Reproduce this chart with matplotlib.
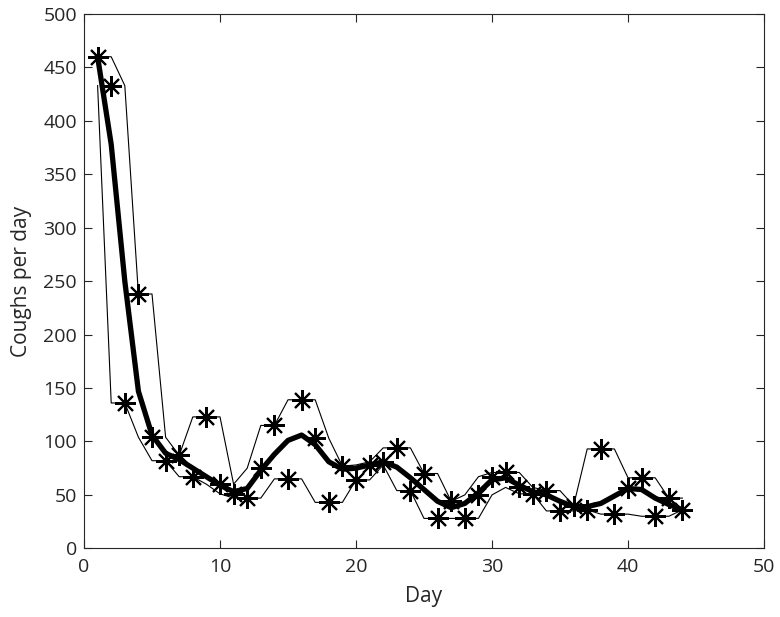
import numpy as np
import pandas as pd
import matplotlib
matplotlib.use("Agg")
import matplotlib.pyplot as plt

# ── data ──────────────────────────────────────────────────────────────────────

days = list(range(1, 45))
coughs = [460, 433, 136, 238, 104, 82, 87, 67, 123, 60,
          51, 47, 75, 115, 65, 139, 103, 43, 77, 64,
          78, 81, 94, 54, 70, 28, 44, 28, 50, 67,
          71, 57, 51, 54, 35, 40, 36, 93, 32, 56,
          66, 30, 47, 36]
smooth = [460, 378, 250, 147, 106, 89, 83, 75, 67, 59,
          53, 56, 73, 88, 101, 106, 97, 81, 74, 75,
          78, 81, 76, 66, 55, 44, 38, 42, 52, 64,
          66, 59, 53, 50, 44, 39, 39, 42, 49, 56,
          55, 47, 41, 36]

# 3-day running max / min envelope
s = pd.Series(coughs, index=days)
upper = s.rolling(3, center=True, min_periods=1).max()
lower = s.rolling(3, center=True, min_periods=1).min()

# ── plot ──────────────────────────────────────────────────────────────────────

plt.rcParams["font.family"] = ["Open Sans", "DejaVu Sans"]

fig = plt.figure(figsize=(7.8, 6.17), dpi=100)
ax = fig.add_axes([0.1077, 0.1113, 0.8718, 0.8660])

asterisk = (8, 2, 0)
ax.plot(days, upper.values, color="black", linewidth=0.8)
ax.plot(days, lower.values, color="black", linewidth=0.8)
ax.plot(days, smooth, color="black", linewidth=3.8, solid_joinstyle="round")
ax.plot(days, coughs, linestyle="none", marker=asterisk, markersize=15,
        markeredgewidth=1.5, color="black")

ax.set_xlim(0, 50)
ax.set_ylim(0, 500)
ax.set_xticks(range(0, 51, 10))
ax.set_yticks(range(0, 501, 50))
ax.set_xlabel("Day", fontsize=15, color="#262626", labelpad=7)
ax.set_ylabel("Coughs per day", fontsize=15, color="#262626", labelpad=8)
ax.tick_params(direction="in", length=6, width=0.8, labelsize=14,
               colors="#262626", top=True, right=True)
ax.tick_params(axis="x", pad=7)
ax.tick_params(axis="y", pad=5)
for sp in ax.spines.values():
    sp.set_color("#262626")
    sp.set_linewidth(0.8)

fig.savefig("out.png", dpi=100)
